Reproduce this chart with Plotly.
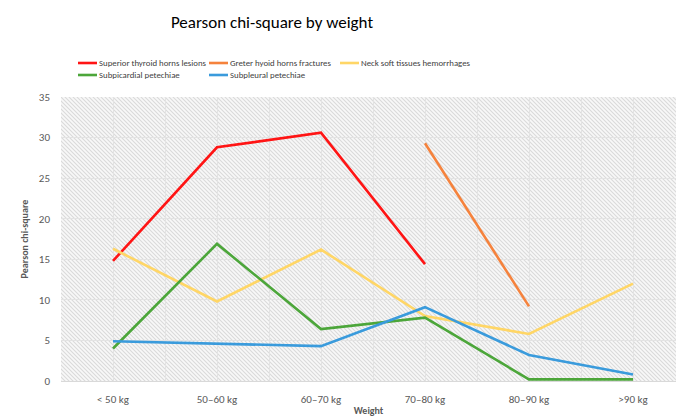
import base64
import plotly.graph_objects as go

categories = ["< 50 kg", "50\u201360 kg", "60\u201370 kg", "70\u201380 kg", "80\u201390 kg", ">90 kg"]
series_names = [
    "Superior thyroid horns lesions",
    "Greter hyoid horns fractures",
    "Neck soft tissues hemorrhages",
    "Subpicardial petechiae",
    "Subpleural petechiae",
]
superior_thyroid = [14.8, 28.8, 30.6, 14.4, None, None]
greter_hyoid = [None, None, None, 29.3, 9.2, None]
neck_soft = [16.3, 9.8, 16.2, 8.0, 5.8, 12.0]
subpicardial = [4.0, 16.9, 6.4, 7.8, 0.2, 0.2]
subpleural = [4.9, 4.6, 4.3, 9.1, 3.2, 0.8]
y_ticks = [0, 5, 10, 15, 20, 25, 30, 35]

series_values = [superior_thyroid, greter_hyoid, neck_soft, subpicardial, subpleural]
colors = ["#ff1414", "#f5823c", "#ffd666", "#4ca63a", "#3a9bdc"]
# legend slot (column, row) of each series
legend_slots = [(0, 0), (1, 0), (2, 0), (0, 1), (1, 1)]

FONT = "Carlito, Lato, sans-serif"

W, H = 676, 417
L, T, B = 61, 97, 36
PW, PH = W - L, H - T - B


def px_x(px):
    return (px - L) / PW


def px_y(py):
    return (H - B - py) / PH


x_idx = list(range(len(categories)))

fig = go.Figure()
for name, vals, col in zip(series_names, series_values, colors):
    fig.add_trace(go.Scatter(
        x=x_idx, y=vals, name=name, mode="lines",
        line=dict(color=col, width=2.6), connectgaps=False,
        showlegend=False, hoverinfo="x+y+name",
    ))

# legend drawn as line samples + text
col_x = [78, 209, 340]
row_y = [63, 75]
for name, col, (c, r) in zip(series_names, colors, legend_slots):
    x0 = col_x[c]
    y0 = row_y[r]
    fig.add_shape(type="line", xref="paper", yref="paper",
                  x0=px_x(x0), x1=px_x(x0 + 19), y0=px_y(y0), y1=px_y(y0),
                  line=dict(color=col, width=2.6))
    fig.add_annotation(text=name, xref="paper", yref="paper",
                       x=px_x(x0 + 19), y=px_y(y0), xanchor="left", yanchor="middle",
                       showarrow=False,
                       font=dict(family=FONT, size=8.8, color="#404040"))

# hatched background
svg = (
    f'<svg xmlns="http://www.w3.org/2000/svg" width="{PW}" height="{PH}">'
    '<defs><pattern id="p" width="4" height="4" patternUnits="userSpaceOnUse">'
    '<rect width="4" height="4" fill="#f8f8f8"/>'
    '<path d="M-1,-1 L5,5 M-1,3 L1,5 M3,-1 L5,1" stroke="#dadada" stroke-width="1.1"/>'
    '</pattern></defs>'
    f'<rect width="{PW}" height="{PH}" fill="url(#p)"/></svg>'
)
src = "data:image/svg+xml;base64," + base64.b64encode(svg.encode()).decode()
fig.add_layout_image(dict(
    source=src, xref="x domain", yref="y domain", x=0, y=1,
    sizex=1, sizey=1, xanchor="left", yanchor="top",
    sizing="stretch", layer="below",
))

grid_col = "#e3e3e3"
fig.update_layout(
    width=W, height=H, showlegend=False,
    margin=dict(l=L, r=0, t=T, b=B, pad=0),
    paper_bgcolor="white", plot_bgcolor="rgba(0,0,0,0)",
    font=dict(family=FONT, color="#595959", size=11),
    title=dict(
        text="Pearson chi-square by weight",
        font=dict(family=FONT, size=17, color="#000000"),
        x=272 / W, xanchor="center", xref="container",
        y=1 - 22 / H, yanchor="middle", yref="container",
    ),
    xaxis=dict(
        range=[-0.5, -0.5 + PW / 104.0],
        tickvals=x_idx, ticktext=categories,
        showgrid=True, gridcolor=grid_col, gridwidth=1,
        minor=dict(tickvals=[i + 0.5 for i in x_idx], showgrid=True,
                   gridcolor=grid_col, gridwidth=1),
        zeroline=False, showline=True, linecolor="#d9d9d9", linewidth=1,
        ticks="", ticklabelstandoff=8,
        tickfont=dict(size=11, color="#595959"),
        title=dict(text="<b>Weight</b>", standoff=2,
                   font=dict(size=10, color="#595959")),
        automargin=False, fixedrange=True,
    ),
    yaxis=dict(
        range=[0, 35], tickvals=y_ticks,
        showgrid=True, gridcolor=grid_col, gridwidth=1,
        zeroline=False, showline=False,
        ticks="", ticklabelstandoff=10,
        tickfont=dict(size=11, color="#595959"),
        title=dict(text="<b>Pearson chi-square</b>", standoff=8,
                   font=dict(size=10, color="#595959")),
        automargin=False, fixedrange=True,
    ),
)

fig.write_html(
    "out.html",
    config={"displayModeBar": False},
    post_script="document.body.style.margin='0';document.body.style.overflow='hidden';",
)
